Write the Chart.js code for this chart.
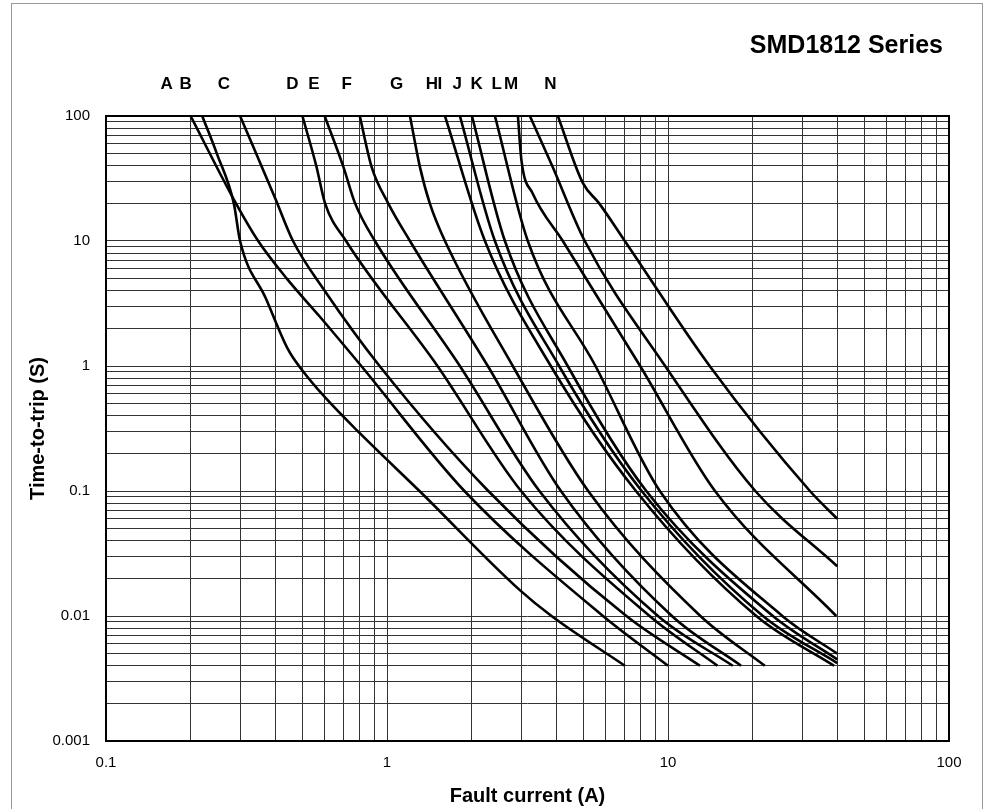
<!DOCTYPE html>
<html>
<head>
<meta charset="utf-8">
<script src="https://cdn.jsdelivr.net/npm/chart.js@4.4.1/dist/chart.umd.min.js"></script>
<style>
  html, body { margin: 0; padding: 0; background: #fff; }
  #wrap { position: relative; width: 987px; height: 809px; }
  #frame { position: absolute; left: 11px; top: 3px; width: 970px; height: 820px; border: 1px solid #999; }
  canvas { position: absolute; left: 0; top: 0; }
</style>
</head>
<body>
<div id="wrap">
  <div id="frame"></div>
  <canvas id="chart" width="987" height="809"></canvas>
</div>
<script>
// Titel und Achsen
const chartTitle = 'SMD1812 Series';
const xTitle = 'Fault current (A)';
const yTitle = 'Time-to-trip (S)';

// Kurvennamen und wo der Buchstabe oben steht (in A)
const curveNames = ['A', 'B', 'C', 'D', 'E', 'F', 'G', 'H', 'I', 'J', 'K', 'L', 'M', 'N'];
const labelAt = [0.1645, 0.192, 0.263, 0.461, 0.549, 0.719, 1.083, 1.445, 1.543, 1.778, 2.084, 2.455, 2.767, 3.818];

// Auslösekurven: [Strom (A), Zeit (s)]
const curveA = [[0.2, 100], [0.29, 20], [0.348, 10], [0.44, 5], [0.575, 2.5], [0.81, 1], [1.886, 0.1], [5.87, 0.01], [10, 0.004]];
const curveB = [[0.22, 100], [0.248, 50], [0.285, 20], [0.30, 10], [0.37, 3.5], [0.445, 1.35], [0.50, 0.92], [0.6, 0.565], [0.8, 0.29], [1.305, 0.1], [2.97, 0.0161], [3.85, 0.01], [7.02, 0.004]];
const curveC = [[0.3, 100], [0.4, 22], [0.463, 10], [0.6, 4], [0.941, 1], [2.294, 0.1], [7.11, 0.01], [13, 0.004]];
const curveD = [[0.5, 100], [0.56, 40], [0.602, 20], [0.715, 10], [1.512, 1], [3.0, 0.1], [8.6, 0.01], [15, 0.004]];
const curveE = [[0.6, 100], [0.70, 39], [0.77, 20], [0.906, 10], [1.817, 1], [3.487, 0.1], [9.21, 0.01], [17, 0.004]];
const curveF = [[0.8, 100], [0.882, 39], [1.01, 20], [1.207, 10], [2.284, 1], [4.158, 0.1], [10.33, 0.01], [18.2, 0.004]];
const curveG = [[1.207, 100], [1.31, 39], [1.42, 20], [1.608, 10], [2.803, 1], [5.2, 0.1], [13.04, 0.01], [22.1, 0.004]];
const curveH = [[1.608, 100], [2.231, 10], [3.828, 1], [7.69, 0.1], [20.62, 0.01], [39, 0.004]];
const curveI = [[1.817, 100], [2.421, 10], [4.097, 1], [8.06, 0.1], [21.77, 0.01], [40, 0.0042]];
const curveJ = [[2.005, 100], [2.628, 10], [4.396, 1], [8.37, 0.1], [23.62, 0.01], [40, 0.0045]];
const curveK = [[2.421, 100], [3.17, 10], [5.52, 1], [9.35, 0.1], [25.52, 0.01], [40, 0.005]];
const curveL = [[2.923, 100], [3.01, 44], [3.3, 24], [4.224, 10], [7.96, 1], [14.7, 0.1], [39.7, 0.01]];
const curveM = [[3.224, 100], [3.87, 40], [5.057, 10], [9.77, 1], [20.45, 0.1], [40, 0.025]];
const curveN = [[4.055, 100], [4.98, 29], [5.69, 20], [7.02, 10], [14.07, 1], [32, 0.1], [40, 0.06]];

const curves = [curveA, curveB, curveC, curveD, curveE, curveF, curveG, curveH, curveI, curveJ, curveK, curveL, curveM, curveN];

// Achsenbereiche
const xRange = [0.1, 100];
const yRange = [0.001, 100];

const font = '"Liberation Sans", Arial, sans-serif';

// 1..9 pro Dekade, ohne die 1.5er Striche von Chart.js
function logTicks(min, max) {
    const out = [];
    for (let e = Math.round(Math.log10(min)); e < Math.round(Math.log10(max)); e++) {
        for (let m = 1; m < 10; m++) {
            out.push({ value: Number((m * Math.pow(10, e)).toPrecision(3)) });
        }
    }
    out.push({ value: max });
    return out;
}

function isDecade(v) {
    const l = Math.log10(v);
    return Math.abs(l - Math.round(l)) < 1e-6;
}

const decor = {
    id: 'decor',
    afterDraw(chart) {
        const { ctx, chartArea: a, scales: { x } } = chart;
        ctx.save();
        ctx.strokeStyle = '#000';
        ctx.lineWidth = 2;
        ctx.strokeRect(a.left, a.top, a.right - a.left, a.bottom - a.top);
        ctx.fillStyle = '#000';
        ctx.textBaseline = 'middle';
        ctx.textAlign = 'center';
        ctx.font = 'bold 17px ' + font;
        curveNames.forEach((n, i) => ctx.fillText(n, x.getPixelForValue(labelAt[i]), a.top - 32));
        ctx.textAlign = 'right';
        ctx.font = 'bold 25px ' + font;
        ctx.fillText(chartTitle, a.right - 6, a.top - 70);
        ctx.restore();
    }
};

const datasets = curves.map((c, i) => ({
    label: curveNames[i],
    data: c.map(p => ({ x: p[0], y: p[1] })),
    borderColor: '#000',
    borderWidth: 2.6,
    pointRadius: 0,
    fill: false,
    cubicInterpolationMode: 'monotone'
}));

new Chart(document.getElementById('chart'), {
    type: 'line',
    data: { datasets },
    plugins: [decor],
    options: {
        responsive: false,
        animation: false,
        layout: { padding: { top: 116, right: 38, left: 0, bottom: 0 } },
        plugins: { legend: { display: false }, tooltip: { enabled: false } },
        scales: {
            x: {
                type: 'logarithmic',
                min: xRange[0],
                max: xRange[1],
                afterBuildTicks: s => { s.ticks = logTicks(xRange[0], xRange[1]); },
                afterFit: s => { s.height = 68; },
                grid: { color: '#333', lineWidth: 1, drawTicks: false },
                border: { display: false },
                ticks: {
                    autoSkip: false, maxRotation: 0, padding: 13,
                    color: '#000', font: { family: font, size: 15 },
                    callback: v => isDecade(v) ? String(v) : ''
                },
                title: {
                    display: true, text: xTitle, color: '#000',
                    font: { family: font, size: 20, weight: 'bold' },
                    padding: { top: 0, bottom: 1 }
                }
            },
            y: {
                type: 'logarithmic',
                min: yRange[0],
                max: yRange[1],
                afterBuildTicks: s => { s.ticks = logTicks(yRange[0], yRange[1]); },
                afterFit: s => { s.width = 106; },
                grid: { color: '#333', lineWidth: 1, drawTicks: false },
                border: { display: false },
                ticks: {
                    autoSkip: false, padding: 16,
                    color: '#000', font: { family: font, size: 15 },
                    callback: v => isDecade(v) ? String(v) : ''
                },
                title: {
                    display: true, text: yTitle, color: '#000',
                    font: { family: font, size: 20, weight: 'bold' },
                    padding: { top: 26, bottom: 0 }
                }
            }
        }
    }
});
</script>
</body>
</html>
